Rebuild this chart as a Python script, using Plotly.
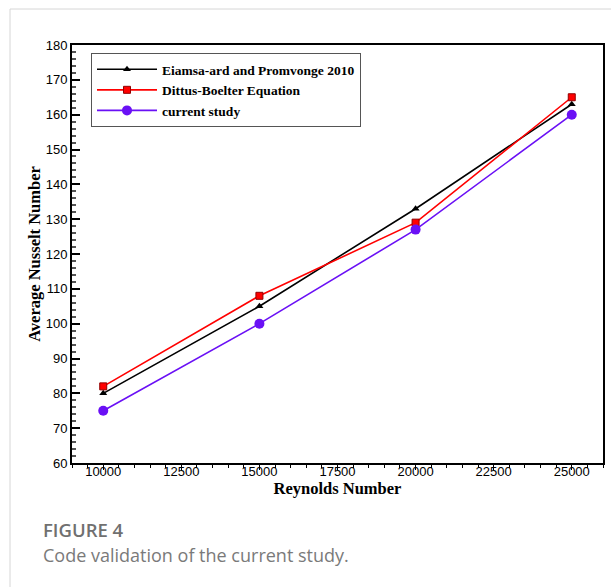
import plotly.graph_objects as go

reynolds = [10000, 15000, 20000, 25000]
eiamsa = [80, 105, 133, 163]
dittus = [82, 108, 129, 165]
current = [75, 100, 127, 160]

names = ["Eiamsa-ard and Promvonge 2010", "Dittus-Boelter Equation", "current study"]

W, H = 611, 587
L, R, T, B = 72, 603, 45, 463

def px_x(p):
    return (p - L) / (R - L)

def px_y(p):
    return 1 - (p - T) / (B - T)

fig = go.Figure()
fig.add_trace(go.Scatter(x=reynolds, y=eiamsa, mode="lines+markers", name=names[0],
                         line=dict(color="#000000", width=1.6),
                         marker=dict(symbol="triangle-up", size=7, color="#000000")))
fig.add_trace(go.Scatter(x=reynolds, y=dittus, mode="lines+markers", name=names[1],
                         line=dict(color="#ff0000", width=1.6),
                         marker=dict(symbol="square", size=7, color="#ff0000",
                                     line=dict(color="#900000", width=1))))
fig.add_trace(go.Scatter(x=reynolds, y=current, mode="lines+markers", name=names[2],
                         line=dict(color="#6a10f5", width=1.6),
                         marker=dict(symbol="circle", size=10, color="#6a10f5")))

fig.update_layout(
    width=W, height=H,
    margin=dict(l=L, r=W - R, t=T, b=H - B, autoexpand=False),
    paper_bgcolor="white", plot_bgcolor="white",
    showlegend=True,
    legend=dict(x=px_x(91), y=px_y(53), xanchor="left", yanchor="top",
                bgcolor="white", bordercolor="#555555", borderwidth=1,
                font=dict(family="Liberation Serif", size=13.5, color="black", weight="bold"),
                tracegroupgap=0, itemwidth=60),
    xaxis=dict(range=[9000, 26000], tickmode="linear", tick0=10000, dtick=2500,
               tickformat="d", ticklabelstandoff=-10,
               ticks="outside", ticklen=5, tickwidth=1, tickcolor="black",
               minor=dict(dtick=500, tick0=9000, ticks="outside", ticklen=3, tickcolor="black"),
               showline=True, linecolor="black", linewidth=2, mirror=True,
               showgrid=False, zeroline=False,
               tickfont=dict(family="Liberation Sans", size=13, color="black"),
               title=dict(text="<b>Reynolds Number</b>", standoff=1,
                          font=dict(family="Liberation Serif", size=16.5, color="black"))),
    yaxis=dict(range=[60, 180], tickmode="linear", tick0=60, dtick=10,
               ticks="inside", ticklen=8, tickwidth=1.5, tickcolor="black",
               minor=dict(dtick=2, ticks="inside", ticklen=4, tickcolor="#555555"),
               showline=True, linecolor="black", linewidth=2, mirror=True,
               showgrid=False, zeroline=False,
               tickfont=dict(family="Liberation Sans", size=13, color="black"),
               title=dict(text="<b>Average Nusselt Number</b>", standoff=1,
                          font=dict(family="Liberation Serif", size=16.5, color="black"))),
    shapes=[
        dict(type="line", xref="paper", yref="paper", x0=px_x(10), x1=px_x(611),
             y0=px_y(9), y1=px_y(9), line=dict(color="#d6d6d6", width=1)),
        dict(type="line", xref="paper", yref="paper", x0=px_x(10), x1=px_x(10),
             y0=px_y(9), y1=px_y(587), line=dict(color="#d6d6d6", width=1)),
    ],
    annotations=[
        dict(text="FIGURE 4", xref="paper", yref="paper", x=px_x(41), y=px_y(529),
             xanchor="left", yanchor="middle", showarrow=False,
             font=dict(family="Open Sans", size=18.5, color="#707070", weight=600)),
        dict(text="Code validation of the current study.", xref="paper", yref="paper",
             x=px_x(41), y=px_y(555), xanchor="left", yanchor="middle", showarrow=False,
             font=dict(family="Open Sans", size=18, color="#7a7a7a")),
    ],
)

fig.write_html("out.html")
